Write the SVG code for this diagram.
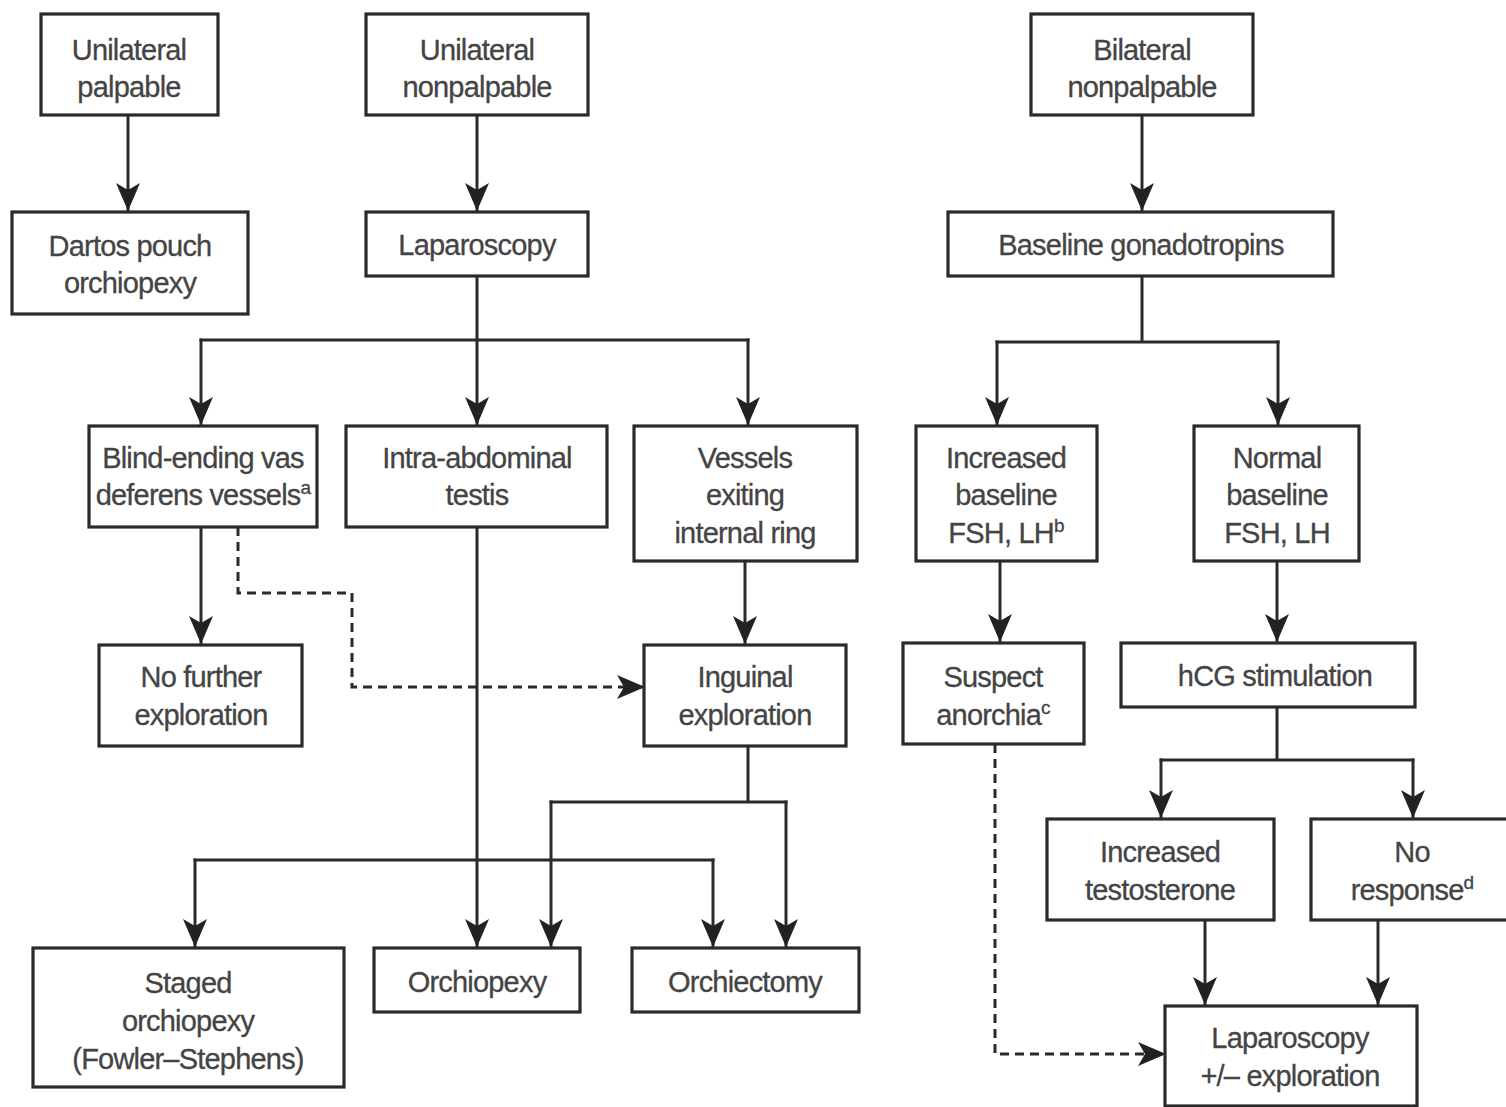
<svg xmlns="http://www.w3.org/2000/svg" width="1506" height="1107" viewBox="0 0 1506 1107">
<style>
.box{fill:#fff;stroke:#2a2a2a;stroke-width:3.2}
.t{font-family:"Liberation Sans",Arial,sans-serif;font-size:29px;letter-spacing:-0.8px;fill:#444;stroke:#444;stroke-width:0.3;text-anchor:middle}
.sup{font-size:19px}
.c{fill:none;stroke:#2a2a2a;stroke-width:3;stroke-linecap:square}
.d{fill:none;stroke:#2a2a2a;stroke-width:3;stroke-dasharray:9 6}
.a{marker-end:url(#ah)}
</style>
<defs>
<marker id="ah" markerUnits="userSpaceOnUse" viewBox="0 0 28 24" markerWidth="28" markerHeight="24" refX="27" refY="12" orient="auto">
<path d="M28,12 L0,0 L7,12 L0,24 Z" fill="#222"/>
</marker>
</defs>
<rect width="1506" height="1107" fill="#fff"/>
<g id="connectors">
<path class="c a" d="M128,115 V210"/>
<path class="c a" d="M477,115 V210"/>
<path class="c a" d="M1142,115 V210"/>
<path class="c" d="M477,276 V340 M201,340 H748"/>
<path class="c a" d="M201,340 V424"/>
<path class="c a" d="M477,340 V424"/>
<path class="c a" d="M748,340 V424"/>
<path class="c" d="M1142,276 V342 M997,342 H1278"/>
<path class="c a" d="M997,342 V424"/>
<path class="c a" d="M1278,342 V424"/>
<path class="c a" d="M201,527 V643"/>
<path class="d a" d="M238,527 V593 H352 V687 H644"/>
<path class="c a" d="M477,527 V946"/>
<path class="c" d="M195,860 H713"/>
<path class="c a" d="M195,860 V946"/>
<path class="c a" d="M713,860 V946"/>
<path class="c a" d="M745,561 V643"/>
<path class="c" d="M748,746 V802 M551,802 H786"/>
<path class="c a" d="M551,802 V946"/>
<path class="c a" d="M786,802 V946"/>
<path class="c a" d="M1000,561 V641"/>
<path class="c a" d="M1277,561 V641"/>
<path class="c" d="M1277,707 V760 M1161,760 H1413"/>
<path class="c a" d="M1161,760 V817"/>
<path class="c a" d="M1413,760 V817"/>
<path class="c a" d="M1205,920 V1004"/>
<path class="c a" d="M1378,920 V1004"/>
<path class="d a" d="M995,744 V1054 H1165"/>
</g>
<g id="n1"><rect class="box" x="41" y="14" width="177" height="101"/><text class="t" x="129" y="60">Unilateral</text><text class="t" x="129" y="97">palpable</text></g>
<g id="n2"><rect class="box" x="366" y="14" width="222" height="101"/><text class="t" x="477" y="60">Unilateral</text><text class="t" x="477" y="97">nonpalpable</text></g>
<g id="n3"><rect class="box" x="1031" y="14" width="222" height="101"/><text class="t" x="1142" y="60">Bilateral</text><text class="t" x="1142" y="97">nonpalpable</text></g>
<g id="n4"><rect class="box" x="12" y="212" width="236" height="102"/><text class="t" x="130" y="256">Dartos pouch</text><text class="t" x="130" y="293">orchiopexy</text></g>
<g id="n5"><rect class="box" x="366" y="212" width="222" height="64"/><text class="t" x="477" y="255">Laparoscopy</text></g>
<g id="n6"><rect class="box" x="948" y="212" width="385" height="64"/><text class="t" x="1141" y="255">Baseline gonadotropins</text></g>
<g id="n7"><rect class="box" x="89" y="426" width="228" height="101"/><text class="t" x="203" y="468">Blind-ending vas</text><text class="t" x="203" y="505">deferens vessels<tspan class="sup" dy="-11">a</tspan></text></g>
<g id="n8"><rect class="box" x="346" y="426" width="261" height="101"/><text class="t" x="477" y="468">Intra-abdominal</text><text class="t" x="477" y="505">testis</text></g>
<g id="n9"><rect class="box" x="634" y="426" width="223" height="135"/><text class="t" x="745" y="468">Vessels</text><text class="t" x="745" y="505">exiting</text><text class="t" x="745" y="543">internal ring</text></g>
<g id="n10"><rect class="box" x="916" y="426" width="181" height="135"/><text class="t" x="1006" y="468">Increased</text><text class="t" x="1006" y="505">baseline</text><text class="t" x="1006" y="543">FSH, LH<tspan class="sup" dy="-11">b</tspan></text></g>
<g id="n11"><rect class="box" x="1194" y="426" width="165" height="135"/><text class="t" x="1277" y="468">Normal</text><text class="t" x="1277" y="505">baseline</text><text class="t" x="1277" y="543">FSH, LH</text></g>
<g id="n12"><rect class="box" x="99" y="645" width="203" height="101"/><text class="t" x="201" y="687">No further</text><text class="t" x="201" y="725">exploration</text></g>
<g id="n13"><rect class="box" x="644" y="645" width="202" height="101"/><text class="t" x="745" y="687">Inguinal</text><text class="t" x="745" y="725">exploration</text></g>
<g id="n14"><rect class="box" x="903" y="643" width="181" height="101"/><text class="t" x="993" y="687">Suspect</text><text class="t" x="993" y="725">anorchia<tspan class="sup" dy="-11">c</tspan></text></g>
<g id="n15"><rect class="box" x="1121" y="643" width="294" height="64"/><text class="t" x="1275" y="686">hCG stimulation</text></g>
<g id="n16"><rect class="box" x="1047" y="819" width="227" height="101"/><text class="t" x="1160" y="862">Increased</text><text class="t" x="1160" y="900">testosterone</text></g>
<g id="n17"><rect class="box" x="1311" y="819" width="200" height="101"/><text class="t" x="1412" y="862">No</text><text class="t" x="1412" y="900">response<tspan class="sup" dy="-11">d</tspan></text></g>
<g id="n18"><rect class="box" x="33" y="948" width="311" height="139"/><text class="t" x="188" y="993">Staged</text><text class="t" x="188" y="1031">orchiopexy</text><text class="t" x="188" y="1069">(Fowler–Stephens)</text></g>
<g id="n19"><rect class="box" x="374" y="948" width="206" height="64"/><text class="t" x="477" y="992">Orchiopexy</text></g>
<g id="n20"><rect class="box" x="632" y="948" width="227" height="64"/><text class="t" x="745" y="992">Orchiectomy</text></g>
<g id="n21"><rect class="box" x="1165" y="1006" width="252" height="100"/><text class="t" x="1290" y="1048">Laparoscopy</text><text class="t" x="1290" y="1086">+/– exploration</text></g>
</svg>
